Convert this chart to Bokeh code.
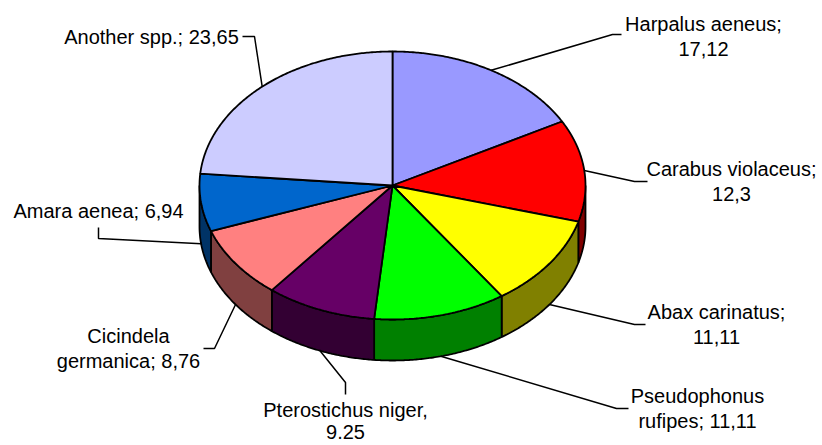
import numpy as np
from bokeh.plotting import figure
from bokeh.models import Range1d
from bokeh.core.properties import value
from bokeh.embed import file_html
from bokeh.resources import INLINE

# ---------------- data ----------------
species = ["Harpalus aeneus", "Carabus violaceus", "Abax carinatus",
           "Pseudophonus rufipes", "Pterostichus niger", "Cicindela germanica",
           "Amara aenea", "Another spp."]
shares = [17.12, 12.3, 11.11, 11.11, 9.25, 8.76, 6.94, 23.65]
label_lines = [["Harpalus aeneus;", "17,12"],
               ["Carabus violaceus;", "12,3"],
               ["Abax carinatus;", "11,11"],
               ["Pseudophonus", "rufipes; 11,11"],
               ["Pterostichus niger,", "9.25"],
               ["Cicindela", "germanica; 8,76"],
               ["Amara aenea; 6,94"],
               ["Another spp.; 23,65"]]
top_colors = ["#9999FF", "#FF0000", "#FFFF00", "#00FF00",
              "#660066", "#FF8080", "#0066CC", "#CCCCFF"]
side_colors = ["#4D4D80", "#800000", "#808000", "#008000",
               "#330033", "#804040", "#003366", "#666680"]

# ---------------- layout ----------------
W, H = 822, 445
CX, CY, RX, RY, DEPTH = 392, 185, 193, 134, 41
TEXT_DY = -7
label_pos = [(703, 30), (731, 175), (716, 318), (697, 402),
             (345, 416), (128, 342), (98, 217), (151, 43)]
label_gap = [25, 25, 25, 25, 22, 25, 25, 25]
leader_bends = [[(612, 34), (621, 34)],
                [(634, 181), (647, 181)],
                [(634, 324), (645, 324)],
                [(616, 408), (628, 408)],
                [(345, 382), (345, 394)],
                [(214, 348), (203, 348)],
                [(98, 238), (98, 227)],
                [(254, 36), (242, 36)]]

total = float(sum(shares))
cum = np.concatenate([[0.0], np.cumsum(shares)]) / total * 360.0


def ell(a_deg, dy=0.0):
    th = np.radians(90.0 - np.asarray(a_deg, dtype=float))
    return CX + RX * np.cos(th), CY - RY * np.sin(th) + dy


p = figure(width=W, height=H, output_backend="svg", toolbar_location=None,
           x_range=Range1d(0, W), y_range=Range1d(H, 0),
           min_border=0, outline_line_color=None, background_fill_color="white")
p.axis.visible = False
p.grid.visible = False

# side walls
sx, sy, sc = [], [], []
for i in range(len(shares)):
    a0, a1 = cum[i], cum[i + 1]
    lo, hi = max(a0, 90.0), min(a1, 270.0)
    if hi > lo:
        arc = np.linspace(lo, hi, max(3, int(hi - lo) * 2))
        xt, yt = ell(arc)
        xb, yb = ell(arc[::-1], DEPTH)
        sx.append(list(xt) + list(xb))
        sy.append(list(yt) + list(yb))
        sc.append(side_colors[i])
p.patches(sx, sy, fill_color=sc, line_color="black", line_width=1.8)

# top wedges
tx, ty = [], []
for i in range(len(shares)):
    a0, a1 = cum[i], cum[i + 1]
    arc = np.linspace(a0, a1, max(3, int(a1 - a0) * 2))
    xt, yt = ell(arc)
    tx.append([CX] + list(xt))
    ty.append([CY] + list(yt))
p.patches(tx, ty, fill_color=top_colors, line_color="black", line_width=1.8)

# leader lines
lx, ly = [], []
for i in range(len(shares)):
    mid = (cum[i] + cum[i + 1]) / 2.0
    th = np.radians(90.0 - mid)
    dy = DEPTH if np.sin(th) < 0 else 0.0
    ax, ay = ell(mid, dy)
    xs = [float(ax)] + [b[0] for b in leader_bends[i]]
    ys = [float(ay)] + [b[1] for b in leader_bends[i]]
    lx.append(xs)
    ly.append(ys)
p.multi_line(lx, ly, line_color="black", line_width=1.5)

# labels
txt_x, txt_y, txt = [], [], []
for i, lines in enumerate(label_lines):
    for j, s in enumerate(lines):
        txt_x.append(label_pos[i][0])
        txt_y.append(label_pos[i][1] + j * label_gap[i] + TEXT_DY)
        txt.append(s)
p.text(txt_x, txt_y, text=txt, text_font=value("Liberation Sans"),
       text_font_size="20px", text_align="center", text_baseline="alphabetic",
       text_color="black")

open("out.html", "w").write(file_html(p, INLINE))
